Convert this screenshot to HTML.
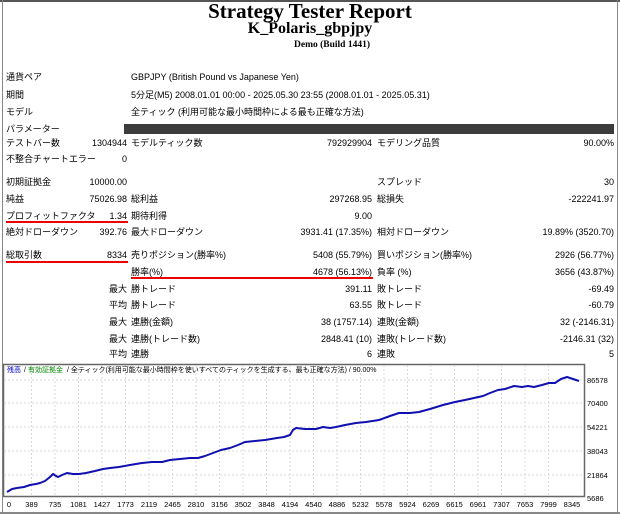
<!DOCTYPE html>
<html><head><meta charset="utf-8"><style>
body{margin:0;width:620px;height:514px;background:#fff;position:relative;overflow:hidden;font-family:"Liberation Sans","Noto Sans CJK JP",sans-serif;font-size:9px;color:#000}
.t{position:absolute;white-space:nowrap;line-height:12px}
.r{text-align:right}
.h{position:absolute;font-family:"Liberation Serif",serif;font-weight:bold;white-space:nowrap}
.u{position:absolute;height:2px;background:#e00}
</style></head><body>
<div style="position:absolute;left:0;top:0;width:620px;height:2px;background:#555"></div>
<div style="position:absolute;left:2px;top:0;width:1px;height:514px;background:#888"></div>
<div style="position:absolute;left:617px;top:0;width:1px;height:514px;background:#888"></div>
<div class="h" style="left:0;width:620px;text-align:center;top:-1px;font-size:21px">Strategy Tester Report</div>
<div class="h" style="left:0;width:620px;text-align:center;top:20px;font-size:16px">K_Polaris_gbpjpy</div>
<div class="h" style="left:294px;top:40px;font-size:9.5px">Demo (Build 1441)</div>

<div class="t" style="left:6px;top:71px">通貨ペア</div><div class="t" style="left:131px;top:71px">GBPJPY (British Pound vs Japanese Yen)</div>
<div class="t" style="left:6px;top:89px">期間</div><div class="t" style="left:131px;top:89px">5分足(M5) 2008.01.01 00:00 - 2025.05.30 23:55 (2008.01.01 - 2025.05.31)</div>
<div class="t" style="left:6px;top:106px">モデル</div><div class="t" style="left:131px;top:106px">全ティック (利用可能な最小時間枠による最も正確な方法)</div>
<div class="t" style="left:6px;top:123px">パラメーター</div><div style="position:absolute;left:124px;top:124px;width:490px;height:10px;background:#3c3c3c"></div>

<div class="t" style="left:6px;top:137px">テストバー数</div><div class="t r" style="left:60px;width:67px;top:137px">1304944</div>
<div class="t" style="left:131px;top:137px">モデルティック数</div><div class="t r" style="left:250px;width:122px;top:137px">792929904</div>
<div class="t" style="left:377px;top:137px">モデリング品質</div><div class="t r" style="left:500px;width:114px;top:137px">90.00%</div>
<div class="t" style="left:6px;top:153px">不整合チャートエラー</div><div class="t r" style="left:60px;width:67px;top:153px">0</div>

<div class="t" style="left:6px;top:176px">初期証拠金</div><div class="t r" style="left:60px;width:67px;top:176px">10000.00</div>
<div class="t" style="left:377px;top:176px">スプレッド</div><div class="t r" style="left:500px;width:114px;top:176px">30</div>
<div class="t" style="left:6px;top:193px">純益</div><div class="t r" style="left:60px;width:67px;top:193px">75026.98</div>
<div class="t" style="left:131px;top:193px">総利益</div><div class="t r" style="left:250px;width:122px;top:193px">297268.95</div>
<div class="t" style="left:377px;top:193px">総損失</div><div class="t r" style="left:500px;width:114px;top:193px">-222241.97</div>

<div class="t" style="left:6px;top:210px">プロフィットファクタ</div><div class="t r" style="left:60px;width:67px;top:210px">1.34</div>
<div class="t" style="left:131px;top:210px">期待利得</div><div class="t r" style="left:250px;width:122px;top:210px">9.00</div>
<div class="u" style="left:6px;top:221px;width:122px"></div>
<div class="t" style="left:6px;top:226px">絶対ドローダウン</div><div class="t r" style="left:60px;width:67px;top:226px">392.76</div>
<div class="t" style="left:131px;top:226px">最大ドローダウン</div><div class="t r" style="left:250px;width:122px;top:226px">3931.41 (17.35%)</div>
<div class="t" style="left:377px;top:226px">相対ドローダウン</div><div class="t r" style="left:500px;width:114px;top:226px">19.89% (3520.70)</div>

<div class="t" style="left:6px;top:249px">総取引数</div><div class="t r" style="left:60px;width:67px;top:249px">8334</div>
<div class="u" style="left:6px;top:261px;width:122px"></div>
<div class="t" style="left:131px;top:249px">売りポジション(勝率%)</div><div class="t r" style="left:250px;width:122px;top:249px">5408 (55.79%)</div>
<div class="t" style="left:377px;top:249px">買いポジション(勝率%)</div><div class="t r" style="left:500px;width:114px;top:249px">2926 (56.77%)</div>
<div class="t" style="left:131px;top:266px">勝率(%)</div><div class="t r" style="left:250px;width:122px;top:266px">4678 (56.13%)</div>
<div class="u" style="left:131px;top:277px;width:242px"></div>
<div class="t" style="left:377px;top:266px">負率 (%)</div><div class="t r" style="left:500px;width:114px;top:266px">3656 (43.87%)</div>

<div class="t r" style="left:60px;width:67px;top:283px">最大</div><div class="t" style="left:131px;top:283px">勝トレード</div><div class="t r" style="left:250px;width:122px;top:283px">391.11</div><div class="t" style="left:377px;top:283px">敗トレード</div><div class="t r" style="left:500px;width:114px;top:283px">-69.49</div>
<div class="t r" style="left:60px;width:67px;top:299px">平均</div><div class="t" style="left:131px;top:299px">勝トレード</div><div class="t r" style="left:250px;width:122px;top:299px">63.55</div><div class="t" style="left:377px;top:299px">敗トレード</div><div class="t r" style="left:500px;width:114px;top:299px">-60.79</div>
<div class="t r" style="left:60px;width:67px;top:316px">最大</div><div class="t" style="left:131px;top:316px">連勝(金額)</div><div class="t r" style="left:250px;width:122px;top:316px">38 (1757.14)</div><div class="t" style="left:377px;top:316px">連敗(金額)</div><div class="t r" style="left:500px;width:114px;top:316px">32 (-2146.31)</div>
<div class="t r" style="left:60px;width:67px;top:333px">最大</div><div class="t" style="left:131px;top:333px">連勝(トレード数)</div><div class="t r" style="left:250px;width:122px;top:333px">2848.41 (10)</div><div class="t" style="left:377px;top:333px">連敗(トレード数)</div><div class="t r" style="left:500px;width:114px;top:333px">-2146.31 (32)</div>
<div class="t r" style="left:60px;width:67px;top:348px">平均</div><div class="t" style="left:131px;top:348px">連勝</div><div class="t r" style="left:250px;width:122px;top:348px">6</div><div class="t" style="left:377px;top:348px">連敗</div><div class="t r" style="left:500px;width:114px;top:348px">5</div>

<svg style="position:absolute;left:0;top:360px" width="620" height="154" viewBox="0 360 620 154" font-family="Liberation Sans, Noto Sans CJK JP, sans-serif" font-size="7.5">
<rect x="3.5" y="364.5" width="581" height="132" fill="#fff" stroke="#666" stroke-width="1.5"/>
<g stroke="#ccc" stroke-dasharray="2,2" stroke-width="0.7">
<line x1="4" x2="584" y1="380" y2="380"/><line x1="4" x2="584" y1="403" y2="403"/><line x1="4" x2="584" y1="427" y2="427"/><line x1="4" x2="584" y1="451" y2="451"/><line x1="4" x2="584" y1="475" y2="475"/>
<line x1="31.5" x2="31.5" y1="365" y2="496"/><line x1="55" x2="55" y1="365" y2="496"/><line x1="78.5" x2="78.5" y1="365" y2="496"/><line x1="102" x2="102" y1="365" y2="496"/><line x1="125.5" x2="125.5" y1="365" y2="496"/><line x1="149" x2="149" y1="365" y2="496"/><line x1="172.5" x2="172.5" y1="365" y2="496"/><line x1="196" x2="196" y1="365" y2="496"/><line x1="219.5" x2="219.5" y1="365" y2="496"/><line x1="243" x2="243" y1="365" y2="496"/><line x1="266.5" x2="266.5" y1="365" y2="496"/><line x1="290" x2="290" y1="365" y2="496"/><line x1="313.5" x2="313.5" y1="365" y2="496"/><line x1="337" x2="337" y1="365" y2="496"/><line x1="360.5" x2="360.5" y1="365" y2="496"/><line x1="384" x2="384" y1="365" y2="496"/><line x1="407.5" x2="407.5" y1="365" y2="496"/><line x1="431" x2="431" y1="365" y2="496"/><line x1="454.5" x2="454.5" y1="365" y2="496"/><line x1="478" x2="478" y1="365" y2="496"/><line x1="501.5" x2="501.5" y1="365" y2="496"/><line x1="525" x2="525" y1="365" y2="496"/><line x1="548.5" x2="548.5" y1="365" y2="496"/>
</g>
<polyline fill="none" stroke="#1010b0" stroke-width="2" stroke-linejoin="round" points="7,492 12,489 17,488 24,487 30,485 36,484 40,483 45,481 50,477 53,474 56,476 58,477 62,475 67,473 73,474 79,474 86,473 95,471 103,469 110,468 119,467 130,465 142,463 152,462 162,462 170,460 180,459 190,458 198,458 205,456 213,453 221,450 230,448 238,445 245,442 255,441 265,440 277,438 284,437 290,435 293,430 296,428 305,429 316,429 323,427 330,428 336,427 345,425 356,423 366,422 379,420 390,416 399,413 410,413 419,412 430,409 443,405 455,402 465,400 474,398 483,396 490,393 498,390 505,389 514,386 522,387 528,386 534,387 542,385 549,383 555,383 561,379 567,377 573,379 579,381"/>
<text x="7" y="372" fill="#00c" font-size="7">残高</text><text x="24" y="372" font-size="7">/</text><text x="28" y="372" fill="#080" font-size="7">有効証拠金</text><text x="67" y="372" font-size="7">/ 全ティック(利用可能な最小時間枠を使いすべてのティックを生成する、最も正確な方法) / 90.00%</text>
<g text-anchor="start"><text x="587" y="383">86578</text><text x="587" y="406">70400</text><text x="587" y="430">54221</text><text x="587" y="454">38043</text><text x="587" y="478">21864</text><text x="587" y="501">5686</text></g>
<g text-anchor="middle"><text x="9" y="507">0</text><text x="31.5" y="507">389</text><text x="55" y="507">735</text><text x="78.5" y="507">1081</text><text x="102" y="507">1427</text><text x="125.5" y="507">1773</text><text x="149" y="507">2119</text><text x="172.5" y="507">2465</text><text x="196" y="507">2810</text><text x="219.5" y="507">3156</text><text x="243" y="507">3502</text><text x="266.5" y="507">3848</text><text x="290" y="507">4194</text><text x="313.5" y="507">4540</text><text x="337" y="507">4886</text><text x="360.5" y="507">5232</text><text x="384" y="507">5578</text><text x="407.5" y="507">5924</text><text x="431" y="507">6269</text><text x="454.5" y="507">6615</text><text x="478" y="507">6961</text><text x="501.5" y="507">7307</text><text x="525" y="507">7653</text><text x="548.5" y="507">7999</text><text x="572" y="507">8345</text></g>
</svg>
<div style="position:absolute;left:0;top:512px;width:620px;height:2px;background:#888"></div>
</body></html>
